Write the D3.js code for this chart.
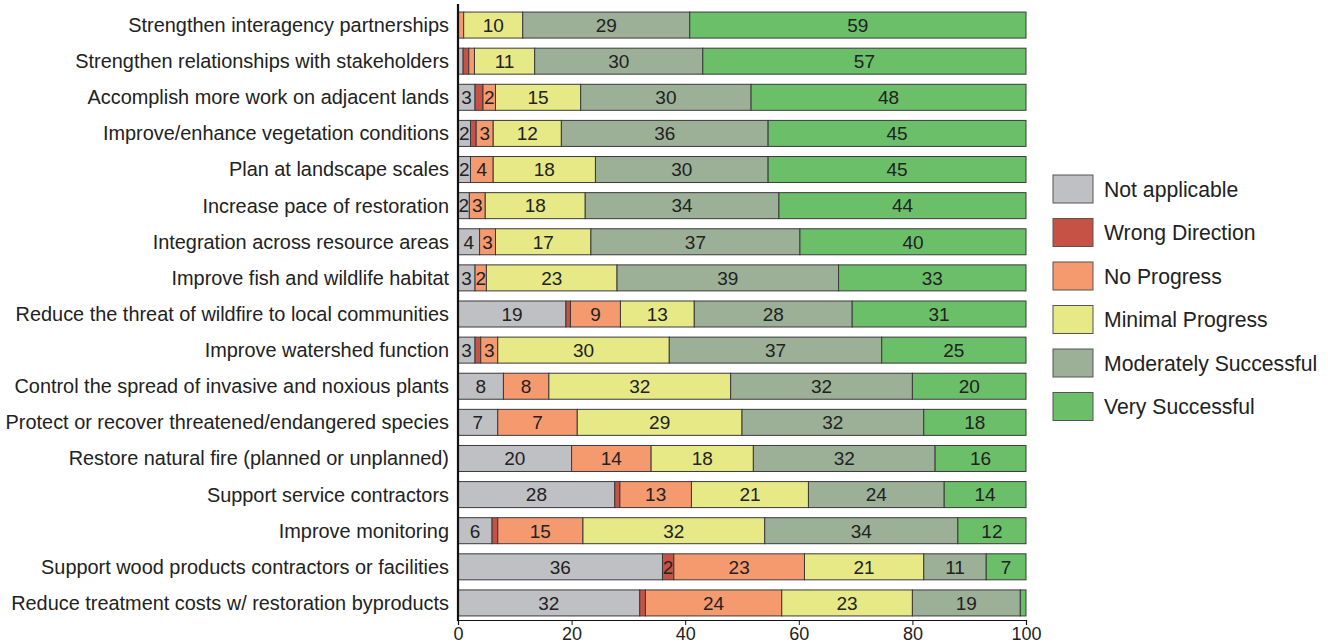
<!DOCTYPE html>
<html><head><meta charset="utf-8">
<script src="https://cdn.jsdelivr.net/npm/d3@7"></script>
<style>body{margin:0;background:#fff}svg{display:block}text{font-family:"Liberation Sans",Arial,sans-serif}</style>
</head><body><svg id="c" width="1328" height="643"></svg>
<script>
const categories = [
 "Strengthen interagency partnerships",
 "Strengthen relationships with stakeholders",
 "Accomplish more work on adjacent lands",
 "Improve/enhance vegetation conditions",
 "Plan at landscape scales",
 "Increase pace of restoration",
 "Integration across resource areas",
 "Improve fish and wildlife habitat",
 "Reduce the threat of wildfire to local communities",
 "Improve watershed function",
 "Control the spread of invasive and noxious plants",
 "Protect or recover threatened/endangered species",
 "Restore natural fire (planned or unplanned)",
 "Support service contractors",
 "Improve monitoring",
 "Support wood products contractors or facilities",
 "Reduce treatment costs w/ restoration byproducts"
];
const seriesNames = ["Not applicable","Wrong Direction","No Progress","Minimal Progress","Moderately Successful","Very Successful"];
const notApplicable   = [0,   0.9, 3,   2.2, 2.2, 2,   3.8, 3,  19,  3,   8,  7,  20, 27.6,6,  36, 32];
const wrongDirection  = [0,   1,   1.4, 1,   0,   0,   0,   0,  0.8, 1,   0,  0,  0,  0.9, 1,  2,  1];
const noProgress      = [1,   1,   2.2, 3,   4,   2.8, 2.8, 2,  8.8, 3,   8,  14, 14, 12.6,15, 23, 24];
const minimalProgress = [10.4,10.6,15,  12,  18,  17.6,16.8,23, 13,  30.2,32, 29, 18, 20.6,32, 21, 23];
const modSuccessful   = [29.4,29.6,30,  36.4,30.4,34.1,36.8,39, 27.8,37.4,32, 32, 32, 23.9,34, 11, 19];
const verySuccessful  = [59.2,56.9,48.4,45.4,45.4,43.5,39.8,33, 30.6,25.4,20, 18, 16, 14.4,12, 7,  1];
// printed labels that differ from the bar width in the original figure
const labelOverrides = {"11|2": 7};
const xTicks = [0,20,40,60,80,100];
const colors = ["#bfc0c4","#c65245","#f59a6f","#e6e985","#9bb097","#6bbf69"];

const seriesValues = [notApplicable, wrongDirection, noProgress, minimalProgress, modSuccessful, verySuccessful];
const rows = categories.map((c,i)=>{const r={cat:c}; seriesNames.forEach((s,j)=>r[s]=seriesValues[j][i]); return r;});
const stacked = d3.stack().keys(seriesNames)(rows);

const svg = d3.select("#c");
const x = d3.scaleLinear().domain([0,100]).range([458,1026]);
const y = d3.scaleBand().domain(categories).range([7,621]).paddingInner(0.28).paddingOuter(0.14);
const color = d3.scaleOrdinal().domain(seriesNames).range(colors);

const g = svg.append("g");
stacked.forEach((layer,j)=>{
  const lg = g.append("g");
  lg.selectAll("rect").data(layer).join("rect")
    .attr("x",d=>x(d[0])).attr("width",d=>Math.max(0,x(d[1])-x(d[0])))
    .attr("y",d=>y(d.data.cat)).attr("height",y.bandwidth())
    .attr("fill",color(layer.key)).attr("stroke","#3a3a3a").attr("stroke-width",1)
    .attr("display",d=>(d[1]-d[0])>0?null:"none");
  lg.selectAll("text").data(layer.map((d,i)=>({d,i}))).join("text")
    .filter(o=>Math.round(o.d[1]-o.d[0])>=2)
    .attr("x",o=>(x(o.d[0])+x(o.d[1]))/2).attr("y",o=>y(o.d.data.cat)+y.bandwidth()/2)
    .attr("dy","0.36em").attr("text-anchor","middle").attr("font-size",19).attr("fill","#222")
    .text(o=>{const k=o.i+"|"+j; return k in labelOverrides?labelOverrides[k]:Math.round(o.d[1]-o.d[0]);});
});

// category labels
svg.append("g").selectAll("text").data(categories).join("text")
  .attr("x",449).attr("y",d=>y(d)+y.bandwidth()/2).attr("dy","0.35em")
  .attr("text-anchor","end").attr("font-size",19.9).attr("fill","#222").text(d=>d);

// y axis line
svg.append("line").attr("x1",458).attr("x2",458).attr("y1",4).attr("y2",621).attr("stroke","#111").attr("stroke-width",2.2);

// x axis
const xa = svg.append("g").attr("transform","translate(0,620)")
  .call(d3.axisBottom(x).tickValues(xTicks).tickSize(5).tickPadding(2).tickFormat(d3.format("d")));
xa.select(".domain").attr("stroke","#111").attr("stroke-width",1.2);
xa.selectAll(".tick line").attr("stroke","#111");
xa.selectAll("text").attr("font-size",18).attr("fill","#222").attr("font-family","'Liberation Sans',Arial,sans-serif");

// legend
const leg = svg.append("g").selectAll("g").data(seriesNames).join("g")
  .attr("transform",(d,i)=>`translate(1053,${175+i*43.5})`);
leg.append("rect").attr("width",40).attr("height",28).attr("fill",d=>color(d)).attr("stroke","#555").attr("stroke-width",1);
leg.append("text").attr("x",51).attr("y",14).attr("dy","0.36em").attr("font-size",21.2).attr("fill","#222").text(d=>d);
</script></body></html>
